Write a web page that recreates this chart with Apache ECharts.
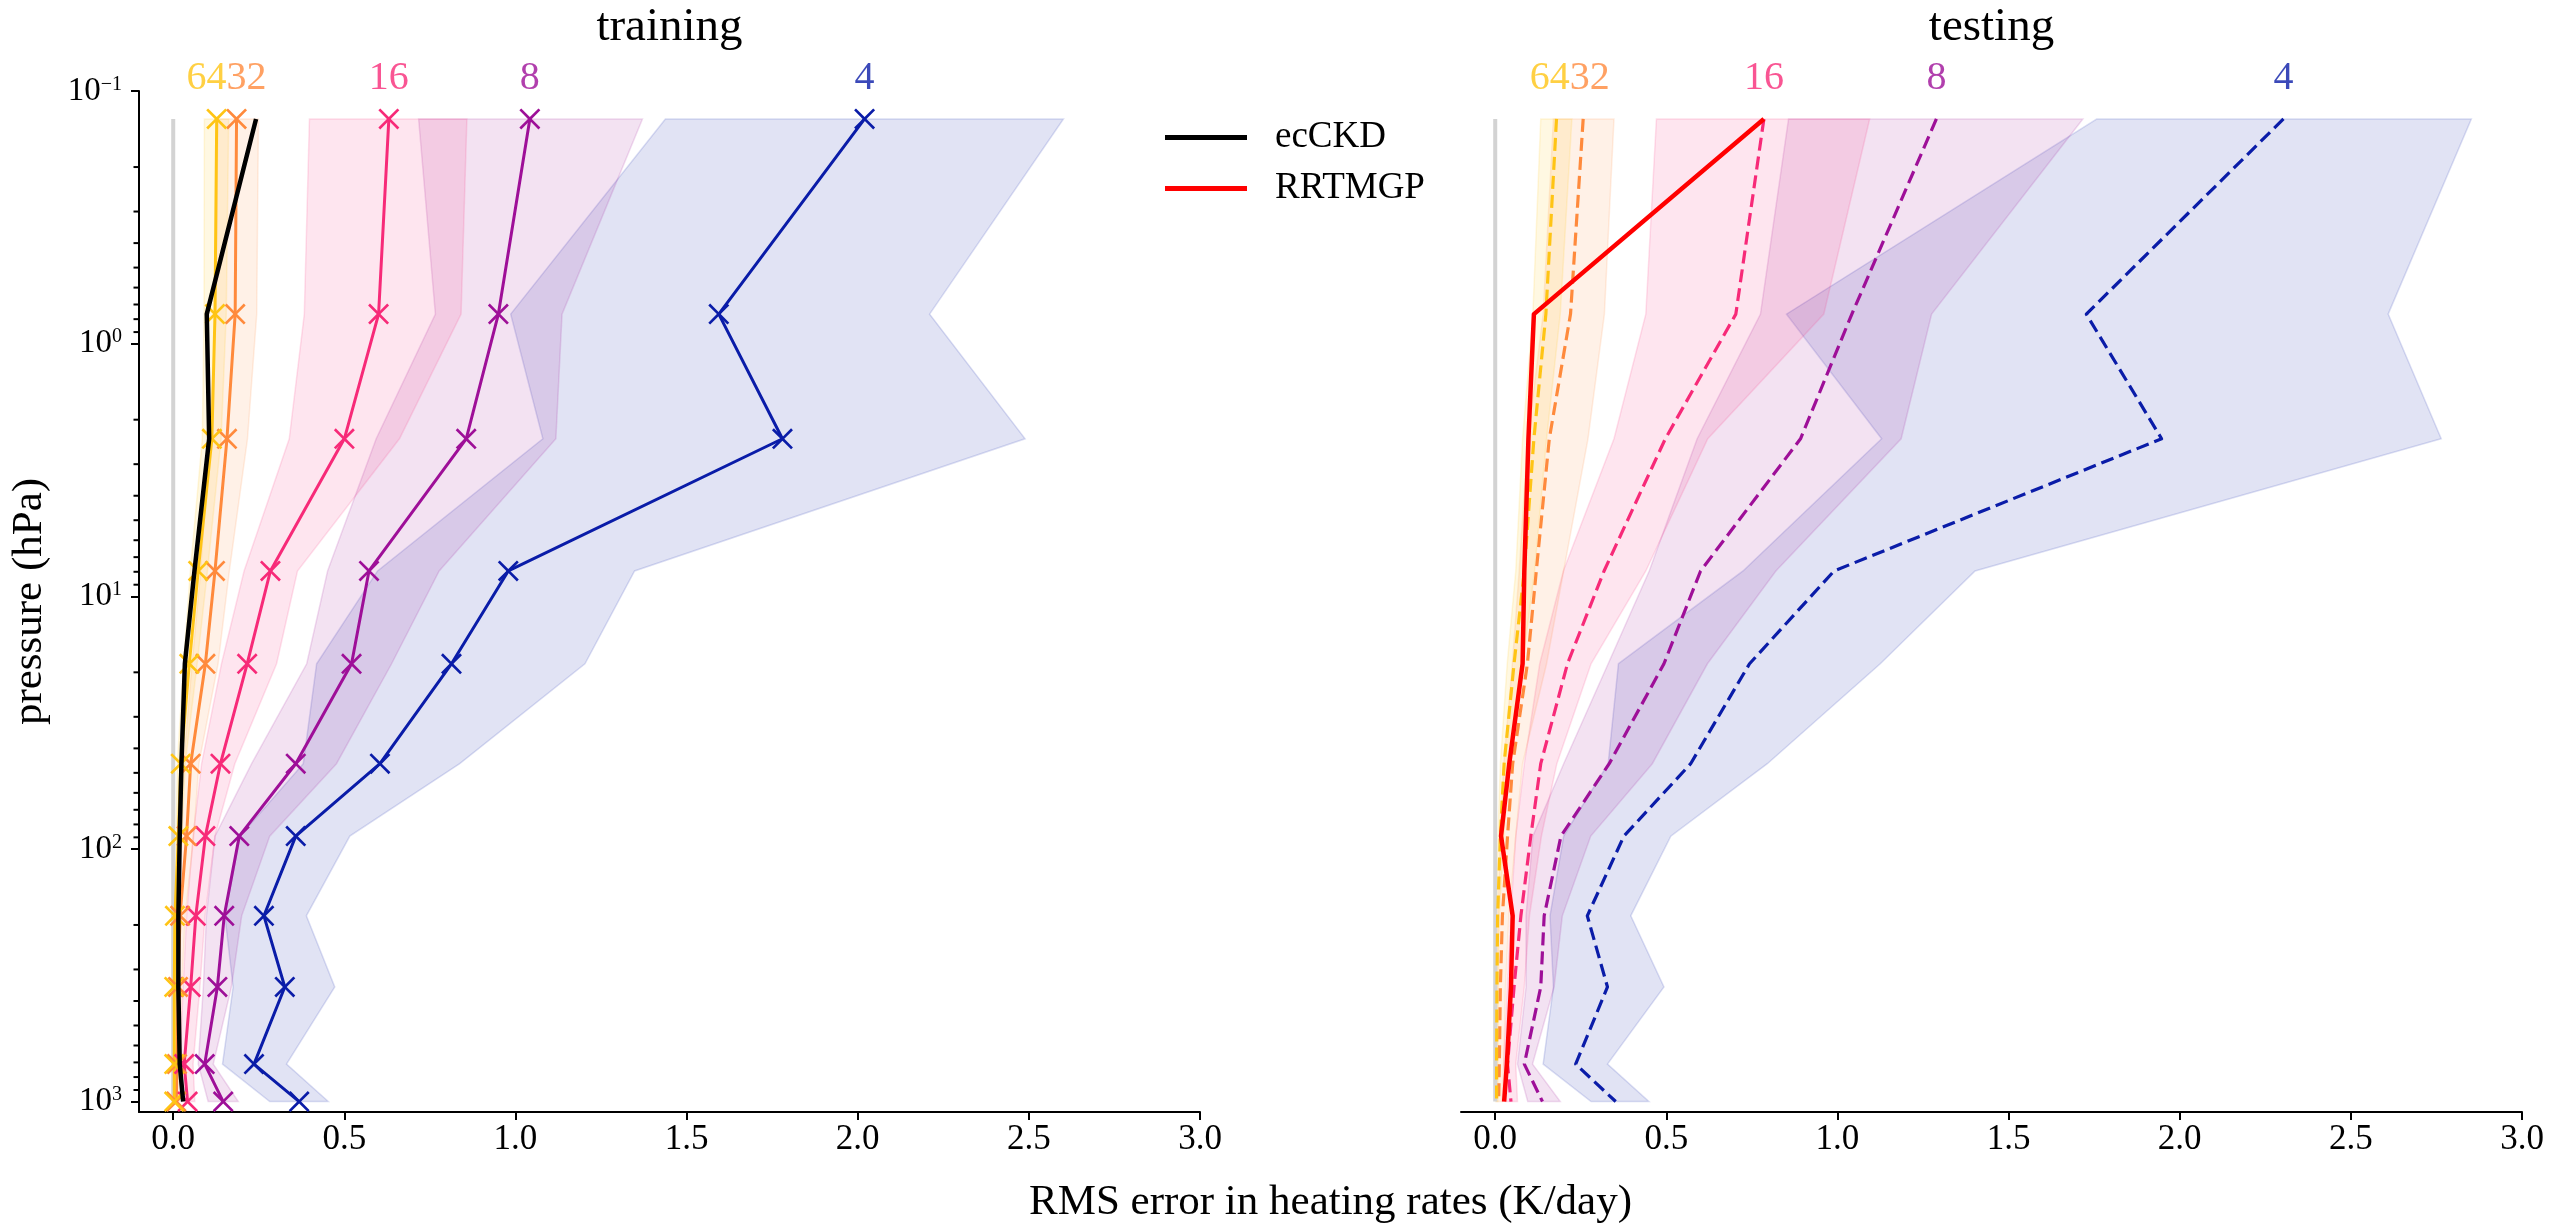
<!DOCTYPE html>
<html>
<head>
<meta charset="utf-8">
<script src="https://cdn.jsdelivr.net/npm/echarts@6/dist/echarts.min.js"></script>
<style>
  html, body { margin: 0; padding: 0; background: #ffffff; }
  #chart { width: 2554px; height: 1227px; }
</style>
</head>
<body>
<div id="chart"></div>
<script>
// Pressure levels (hPa) at which the heating-rate errors are evaluated
const pressureLevels = [0.129, 0.764, 2.38, 7.94, 18.5, 46, 89, 184, 352, 711, 1000];

// Number of g-points of each scheme
const gPoints = [4, 8, 16, 32, 64];

// Axis ticks
const xTickValues = [0, 0.5, 1.0, 1.5, 2.0, 2.5, 3.0];
const yMajorExponents = [-1, 0, 1, 2, 3];

// Training set: RMS error (K/day) with spread bands
const train4     = [2.020, 1.594, 1.780, 0.979, 0.813, 0.604, 0.358, 0.265, 0.326, 0.236, 0.368];
const train4Low  = [1.438, 0.986, 1.080, 0.597, 0.419, 0.380, 0.195, 0.151, 0.175, 0.144, 0.282];
const train4High = [2.601, 2.210, 2.489, 1.348, 1.203, 0.837, 0.516, 0.389, 0.472, 0.331, 0.453];

const train8     = [1.042, 0.950, 0.856, 0.572, 0.521, 0.358, 0.193, 0.149, 0.129, 0.092, 0.146];
const train8Low  = [0.717, 0.766, 0.593, 0.451, 0.390, 0.229, 0.122, 0.097, 0.088, 0.073, 0.102];
const train8High = [1.371, 1.136, 1.118, 0.777, 0.638, 0.477, 0.282, 0.200, 0.170, 0.117, 0.190];

const train16     = [0.630, 0.600, 0.500, 0.284, 0.216, 0.138, 0.094, 0.066, 0.051, 0.032, 0.042];
const train16Low  = [0.398, 0.383, 0.339, 0.207, 0.141, 0.083, 0.058, 0.039, 0.029, 0.019, 0.024];
const train16High = [0.858, 0.841, 0.661, 0.363, 0.302, 0.180, 0.122, 0.093, 0.078, 0.058, 0.063];

const train32     = [0.185, 0.181, 0.157, 0.122, 0.094, 0.051, 0.039, 0.020, 0.014, 0.011, 0.009];
const train32Low  = [0.130, 0.125, 0.105, 0.080, 0.055, 0.030, 0.020, 0.008, 0.005, 0.004, 0.003];
const train32High = [0.249, 0.244, 0.217, 0.164, 0.131, 0.075, 0.060, 0.035, 0.025, 0.020, 0.018];

const train64     = [0.127, 0.122, 0.113, 0.073, 0.047, 0.022, 0.015, 0.005, 0.003, 0.003, 0.003];
const train64Low  = [0.091, 0.090, 0.085, 0.050, 0.030, 0.012, 0.008, 0.002, 0.001, 0.001, 0.001];
const train64High = [0.162, 0.155, 0.140, 0.100, 0.070, 0.035, 0.025, 0.010, 0.007, 0.007, 0.007];

const ecckdTrain = [0.242, 0.098, 0.105, 0.062, 0.034, 0.024, 0.019, 0.015, 0.015, 0.019, 0.029];

// Testing set
const test4     = [2.303, 1.727, 1.947, 0.990, 0.743, 0.571, 0.376, 0.269, 0.328, 0.235, 0.352];
const test4Low  = [1.758, 0.851, 1.129, 0.724, 0.360, 0.330, 0.200, 0.160, 0.170, 0.140, 0.280];
const test4High = [2.852, 2.609, 2.764, 1.402, 1.125, 0.795, 0.513, 0.396, 0.493, 0.328, 0.449];

const test8     = [1.289, 1.042, 0.892, 0.600, 0.493, 0.333, 0.192, 0.143, 0.133, 0.085, 0.138];
const test8Low  = [0.857, 0.775, 0.590, 0.450, 0.330, 0.200, 0.110, 0.090, 0.090, 0.065, 0.095];
const test8High = [1.717, 1.275, 1.186, 0.820, 0.620, 0.459, 0.279, 0.196, 0.172, 0.109, 0.190];

const test16     = [0.785, 0.703, 0.497, 0.318, 0.211, 0.133, 0.104, 0.075, 0.055, 0.036, 0.046];
const test16Low  = [0.471, 0.440, 0.347, 0.199, 0.130, 0.085, 0.060, 0.045, 0.035, 0.025, 0.030];
const test16High = [1.094, 0.960, 0.621, 0.440, 0.280, 0.180, 0.135, 0.100, 0.085, 0.060, 0.065];

const test32     = [0.257, 0.220, 0.158, 0.120, 0.094, 0.051, 0.036, 0.021, 0.015, 0.012, 0.010];
const test32Low  = [0.170, 0.140, 0.095, 0.070, 0.050, 0.025, 0.015, 0.008, 0.005, 0.004, 0.003];
const test32High = [0.347, 0.319, 0.271, 0.200, 0.150, 0.080, 0.060, 0.040, 0.030, 0.025, 0.020];

const test64     = [0.179, 0.148, 0.113, 0.085, 0.055, 0.026, 0.015, 0.007, 0.005, 0.004, 0.004];
const test64Low  = [0.133, 0.110, 0.080, 0.060, 0.035, 0.015, 0.008, 0.003, 0.002, 0.002, 0.002];
const test64High = [0.224, 0.190, 0.150, 0.115, 0.080, 0.040, 0.025, 0.012, 0.009, 0.008, 0.008];

const rrtmgpTest = [0.785, 0.113, 0.097, 0.085, 0.080, 0.041, 0.017, 0.051, 0.046, 0.034, 0.026];

// ---------------------------------------------------------------------------
const FONT = '"Liberation Serif", "Times New Roman", serif';
const COLORS = { 4: '#0a1ca8', 8: '#9e0f98', 16: '#f72a78', 32: '#ff8a3c', 64: '#ffc414' };
const P_TOP = 0.1, P_BOTTOM = 1100;
const X_MIN = -0.1, X_MAX = 3.0;
const logTop = Math.log10(P_TOP), logBottom = Math.log10(P_BOTTOM);
const logP = pressureLevels.map(p => Math.log10(p));

// minor log ticks: 2..9 x 10^n
const minorLogs = [];
for (let n = -1; n <= 2; n++) {
  for (let k = 2; k <= 9; k++) minorLogs.push(Math.log10(k * Math.pow(10, n)));
}

function rgba(hex, a) {
  const v = parseInt(hex.slice(1), 16);
  return `rgba(${(v >> 16) & 255},${(v >> 8) & 255},${v & 255},${a})`;
}

// "x" marker outline as a filled path
const X_MARK = 'path://M0,9 L9,0 L50,41 L91,0 L100,9 L59,50 L100,91 L91,100 L50,59 L9,100 L0,91 L41,50 Z';

const panels = [
  {
    title: 'training', xAxisIndex: 0, yAxisIndex: 0, dashed: false,
    mean: { 4: train4, 8: train8, 16: train16, 32: train32, 64: train64 },
    low:  { 4: train4Low, 8: train8Low, 16: train16Low, 32: train32Low, 64: train64Low },
    high: { 4: train4High, 8: train8High, 16: train16High, 32: train32High, 64: train64High },
    ref: { name: 'ecCKD', values: ecckdTrain, color: '#000000' }
  },
  {
    title: 'testing', xAxisIndex: 1, yAxisIndex: 1, dashed: true,
    mean: { 4: test4, 8: test8, 16: test16, 32: test32, 64: test64 },
    low:  { 4: test4Low, 8: test8Low, 16: test16Low, 32: test32Low, 64: test64Low },
    high: { 4: test4High, 8: test8High, 16: test16High, 32: test32High, 64: test64High },
    ref: { name: 'RRTMGP', values: rrtmgpTest, color: '#ff0000' }
  }
];

const GRID_TOP = 91, GRID_H = 1021, GRID_W = 1061;
const grids = [
  { left: 139, top: GRID_TOP, width: GRID_W, height: GRID_H, outerBoundsMode: 'none' },
  { left: 1461, top: GRID_TOP, width: GRID_W, height: GRID_H, outerBoundsMode: 'none' }
];

const series = [];

panels.forEach(panel => {
  const axes = { xAxisIndex: panel.xAxisIndex, yAxisIndex: panel.yAxisIndex };

  // spread bands
  gPoints.forEach(g => {
    const lo = panel.low[g], hi = panel.high[g];
    series.push(Object.assign({
      type: 'custom', coordinateSystem: 'cartesian2d', silent: true, z: 1,
      data: [[0, 0]],
      renderItem: (params, api) => {
        const pts = [];
        for (let i = 0; i < logP.length; i++) pts.push(api.coord([lo[i], logP[i]]));
        for (let i = logP.length - 1; i >= 0; i--) pts.push(api.coord([hi[i], logP[i]]));
        return {
          type: 'polygon', shape: { points: pts },
          style: { fill: rgba(COLORS[g], 0.12), stroke: rgba(COLORS[g], 0.14), lineWidth: 1.5 }
        };
      }
    }, axes));
  });

  // zero reference line
  series.push(Object.assign({
    type: 'line', silent: true, z: 2, symbol: 'none',
    data: logP.map(y => [0, y]),
    lineStyle: { color: '#d3d3d3', width: 4 }
  }, axes));

  // error profiles
  gPoints.forEach(g => {
    const c = COLORS[g];
    series.push(Object.assign({
      type: 'line', silent: true, z: 3,
      data: logP.map((y, i) => [panel.mean[g][i], y]),
      symbol: panel.dashed ? 'none' : X_MARK,
      symbolSize: 21,
      itemStyle: { color: c },
      lineStyle: panel.dashed
        ? { color: c, width: 3.2, type: [13, 6], join: 'round' }
        : { color: c, width: 3, join: 'round' }
    }, axes));
  });

  // reference scheme
  series.push(Object.assign({
    name: panel.ref.name, type: 'line', silent: true, z: 4, symbol: 'none',
    data: logP.map((y, i) => [panel.ref.values[i], y]),
    itemStyle: { color: panel.ref.color },
    lineStyle: { color: panel.ref.color, width: 4.5, join: 'round' }
  }, axes));

  // g-point labels above the top of each profile
  const mid6432 = (panel.mean[64][0] + panel.mean[32][0]) / 2;
  const labelItem = (x, text, g, align) => ({
    value: [x, logTop],
    label: { formatter: text, color: COLORS[g], align: align }
  });
  series.push(Object.assign({
    type: 'scatter', silent: true, z: 5, symbolSize: 0, clip: false,
    label: { show: true, position: 'top', distance: 0, offset: [0, 7], fontSize: 40, fontFamily: FONT },
    data: [
      labelItem(mid6432, '64', 64, 'right'),
      labelItem(mid6432, '32', 32, 'left'),
      labelItem(panel.mean[16][0], '16', 16, 'center'),
      labelItem(panel.mean[8][0], '8', 8, 'center'),
      labelItem(panel.mean[4][0], '4', 4, 'center')
    ]
  }, axes));
});

// minor log ticks on the training panel's left spine, placed through the y scale
series.push({
  type: 'custom', coordinateSystem: 'cartesian2d', xAxisIndex: 0, yAxisIndex: 0,
  silent: true, clip: false, z: 6,
  data: minorLogs.map(v => [X_MIN, v]),
  renderItem: (params, api) => {
    const p = api.coord([api.value(0), api.value(1)]);
    return {
      type: 'line',
      shape: { x1: p[0] - 5.5, y1: p[1], x2: p[0], y2: p[1] },
      style: { stroke: '#000', lineWidth: 2 }
    };
  }
});

const xAxes = [0, 1].map(i => ({
  type: 'value', gridIndex: i, position: 'bottom', min: X_MIN, max: X_MAX,
  axisLine: { show: true, onZero: false, lineStyle: { color: '#000', width: 2 } },
  axisTick: { show: true, customValues: xTickValues, length: 8, lineStyle: { color: '#000', width: 2 } },
  axisLabel: {
    customValues: xTickValues, formatter: v => v.toFixed(1),
    fontSize: 35, fontFamily: FONT, color: '#000', margin: 10
  },
  splitLine: { show: false }
}));

const yAxes = [
  {
    type: 'value', gridIndex: 0, position: 'left', inverse: true, min: logTop, max: logBottom,
    axisLine: { show: true, onZero: false, lineStyle: { color: '#000', width: 2 } },
    axisTick: { show: true, customValues: yMajorExponents, length: 8, lineStyle: { color: '#000', width: 2 } },
    axisLabel: {
      customValues: yMajorExponents, margin: 17, color: '#000',
      formatter: v => `{b|10}{s|${v < 0 ? '\u2212' : ''}${Math.abs(Math.round(v))}}`,
      rich: {
        b: { fontSize: 33, fontFamily: FONT, color: '#000', lineHeight: 33, padding: [10, 0, 0, 0], verticalAlign: 'bottom' },
        s: { fontSize: 20, fontFamily: FONT, color: '#000', lineHeight: 20, verticalAlign: 'top' }
      }
    },
    splitLine: { show: false }
  },
  {
    type: 'value', gridIndex: 1, position: 'left', inverse: true, min: logTop, max: logBottom, show: false,
    axisLine: { onZero: false }, splitLine: { show: false }
  }
];

const gridCenter = g => g.left + g.width / 2;
const textEl = (x, y, text, size, rotation) => ({
  type: 'text', x: x, y: y, rotation: rotation || 0, silent: true,
  style: { text: text, fontSize: size, fontFamily: FONT, fill: '#000', align: 'center', verticalAlign: 'middle' }
});

const option = {
  animation: false,
  backgroundColor: '#ffffff',
  textStyle: { fontFamily: FONT },
  grid: grids,
  xAxis: xAxes,
  yAxis: yAxes,
  legend: {
    data: ['ecCKD', 'RRTMGP'],
    orient: 'vertical', left: 1165, top: 119, padding: 0,
    icon: 'rect', itemWidth: 82, itemHeight: 5, itemGap: 14,
    selectedMode: false,
    formatter: name => `{t|${name}}`,
    textStyle: {
      color: '#000', fontSize: 37, fontFamily: FONT,
      rich: { t: { fontSize: 37, fontFamily: FONT, color: '#000', lineHeight: 40, padding: [0, 0, 0, 23] } }
    }
  },
  graphic: [
    textEl(gridCenter(grids[0]), 28, 'training', 47),
    textEl(gridCenter(grids[1]), 28, 'testing', 47),
    textEl((grids[0].left + grids[1].left + grids[1].width) / 2, 1203, 'RMS error in heating rates (K/day)', 43),
    textEl(30, GRID_TOP + GRID_H / 2, 'pressure (hPa)', 43, Math.PI / 2)
  ],
  series: series
};

const chart = echarts.init(document.getElementById('chart'), null, { renderer: 'canvas' });
chart.setOption(option);
</script>
</body>
</html>
